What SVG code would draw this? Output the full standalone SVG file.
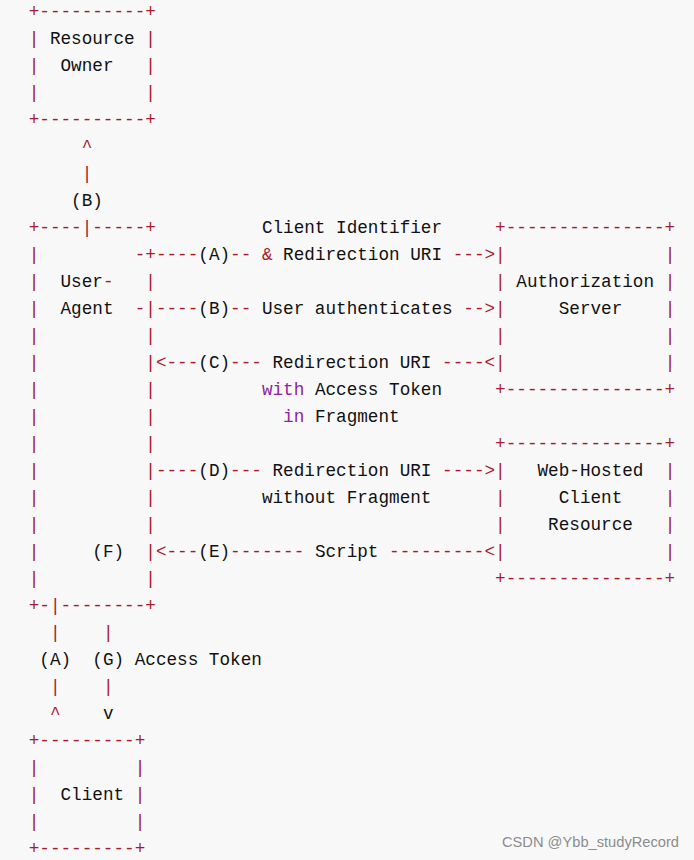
<svg xmlns="http://www.w3.org/2000/svg" width="694" height="860" viewBox="0 0 694 860">
<style>
text{font-family:"Liberation Mono","DejaVu Sans Mono",monospace;font-size:17.667px;white-space:pre}
.r{fill:#a61b2b}
.k{fill:#111111}
.p{fill:#8f23a0}
.wm{font-family:"Liberation Sans","Noto Sans",sans-serif;font-size:14.5px;fill:#8c8c8c}
</style>
<rect x="0" y="0" width="694" height="860" fill="#f8f8f8"/>

<g id="resource-owner">
<text xml:space="preserve" y="16.5"><tspan class="r" x="28.7">+----------+</tspan></text>
<text xml:space="preserve" y="43.5"><tspan class="r" x="28.7">|</tspan><tspan class="k" x="49.9">Resource</tspan><tspan class="r" x="145.3">|</tspan></text>
<text xml:space="preserve" y="70.5"><tspan class="r" x="28.7">|</tspan><tspan class="k" x="60.5">Owner</tspan><tspan class="r" x="145.3">|</tspan></text>
<text xml:space="preserve" y="97.5"><tspan class="r" x="28.7">|</tspan><tspan class="r" x="145.3">|</tspan></text>
<text xml:space="preserve" y="124.5"><tspan class="r" x="28.7">+----------+</tspan></text>
</g>

<g id="user-agent">
<text xml:space="preserve" y="232.5"><tspan class="r" x="28.7">+----|-----+</tspan></text>
<text xml:space="preserve" y="259.5"><tspan class="r" x="28.7">|</tspan></text>
<text xml:space="preserve" y="286.5"><tspan class="r" x="28.7">|</tspan><tspan class="k" x="60.5">User</tspan><tspan class="r" x="102.9">-</tspan><tspan class="r" x="145.3">|</tspan></text>
<text xml:space="preserve" y="313.5"><tspan class="r" x="28.7">|</tspan><tspan class="k" x="60.5">Agent</tspan><tspan class="r" x="145.3">|</tspan></text>
<text xml:space="preserve" y="340.5"><tspan class="r" x="28.7">|</tspan><tspan class="r" x="145.3">|</tspan></text>
<text xml:space="preserve" y="367.5"><tspan class="r" x="28.7">|</tspan><tspan class="r" x="145.3">|</tspan></text>
<text xml:space="preserve" y="394.5"><tspan class="r" x="28.7">|</tspan><tspan class="r" x="145.3">|</tspan></text>
<text xml:space="preserve" y="421.5"><tspan class="r" x="28.7">|</tspan><tspan class="r" x="145.3">|</tspan></text>
<text xml:space="preserve" y="448.5"><tspan class="r" x="28.7">|</tspan><tspan class="r" x="145.3">|</tspan></text>
<text xml:space="preserve" y="475.5"><tspan class="r" x="28.7">|</tspan><tspan class="r" x="145.3">|</tspan></text>
<text xml:space="preserve" y="502.5"><tspan class="r" x="28.7">|</tspan><tspan class="r" x="145.3">|</tspan></text>
<text xml:space="preserve" y="529.5"><tspan class="r" x="28.7">|</tspan><tspan class="r" x="145.3">|</tspan></text>
<text xml:space="preserve" y="556.5"><tspan class="r" x="28.7">|</tspan><tspan class="k" x="92.3">(F)</tspan><tspan class="r" x="145.3">|</tspan></text>
<text xml:space="preserve" y="583.5"><tspan class="r" x="28.7">|</tspan><tspan class="r" x="145.3">|</tspan></text>
<text xml:space="preserve" y="610.5"><tspan class="r" x="28.7">+-|--------+</tspan></text>
</g>

<g id="authorization-server">
<text xml:space="preserve" y="232.5"><tspan class="r" x="495.1">+---------------+</tspan></text>
<text xml:space="preserve" y="259.5"><tspan class="r" x="495.1">|</tspan><tspan class="r" x="664.7">|</tspan></text>
<text xml:space="preserve" y="286.5"><tspan class="r" x="495.1">|</tspan><tspan class="k" x="516.3">Authorization</tspan><tspan class="r" x="664.7">|</tspan></text>
<text xml:space="preserve" y="313.5"><tspan class="r" x="495.1">|</tspan><tspan class="k" x="558.7">Server</tspan><tspan class="r" x="664.7">|</tspan></text>
<text xml:space="preserve" y="340.5"><tspan class="r" x="495.1">|</tspan><tspan class="r" x="664.7">|</tspan></text>
<text xml:space="preserve" y="367.5"><tspan class="r" x="495.1">|</tspan><tspan class="r" x="664.7">|</tspan></text>
<text xml:space="preserve" y="394.5"><tspan class="r" x="495.1">+---------------+</tspan></text>
</g>

<g id="web-hosted-client-resource">
<text xml:space="preserve" y="448.5"><tspan class="r" x="495.1">+---------------+</tspan></text>
<text xml:space="preserve" y="475.5"><tspan class="r" x="495.1">|</tspan><tspan class="k" x="537.5">Web-Hosted</tspan><tspan class="r" x="664.7">|</tspan></text>
<text xml:space="preserve" y="502.5"><tspan class="r" x="495.1">|</tspan><tspan class="k" x="558.7">Client</tspan><tspan class="r" x="664.7">|</tspan></text>
<text xml:space="preserve" y="529.5"><tspan class="r" x="495.1">|</tspan><tspan class="k" x="548.1">Resource</tspan><tspan class="r" x="664.7">|</tspan></text>
<text xml:space="preserve" y="556.5"><tspan class="r" x="495.1">|</tspan><tspan class="r" x="664.7">|</tspan></text>
<text xml:space="preserve" y="583.5"><tspan class="r" x="495.1">+---------------+</tspan></text>
</g>

<g id="client">
<text xml:space="preserve" y="745.5"><tspan class="r" x="28.7">+---------+</tspan></text>
<text xml:space="preserve" y="772.5"><tspan class="r" x="28.7">|</tspan><tspan class="r" x="134.7">|</tspan></text>
<text xml:space="preserve" y="799.5"><tspan class="r" x="28.7">|</tspan><tspan class="k" x="60.5">Client</tspan><tspan class="r" x="134.7">|</tspan></text>
<text xml:space="preserve" y="826.5"><tspan class="r" x="28.7">|</tspan><tspan class="r" x="134.7">|</tspan></text>
<text xml:space="preserve" y="853.5"><tspan class="r" x="28.7">+---------+</tspan></text>
</g>

<g id="connectors">
<text xml:space="preserve" y="151.5"><tspan class="r" x="81.7">^</tspan></text>
<text xml:space="preserve" y="178.5"><tspan class="r" x="81.7">|</tspan></text>
<text xml:space="preserve" y="205.5"><tspan class="k" x="71.1">(B)</tspan></text>

<text xml:space="preserve" y="232.5"><tspan class="k" x="261.9">Client Identifier</tspan></text>
<text xml:space="preserve" y="259.5"><tspan class="r" x="134.7">-+----</tspan><tspan class="k" x="198.3">(A)</tspan><tspan class="r" x="230.1">--</tspan><tspan class="r" x="261.9">&amp;</tspan><tspan class="k" x="283.1">Redirection URI</tspan><tspan class="r" x="452.7">---&gt;</tspan></text>

<text xml:space="preserve" y="313.5"><tspan class="r" x="134.7">-</tspan><tspan class="r" x="155.9">----</tspan><tspan class="k" x="198.3">(B)</tspan><tspan class="r" x="230.1">--</tspan><tspan class="k" x="261.9">User authenticates</tspan><tspan class="r" x="463.3">--&gt;</tspan></text>

<text xml:space="preserve" y="367.5"><tspan class="r" x="155.9">&lt;---</tspan><tspan class="k" x="198.3">(C)</tspan><tspan class="r" x="230.1">---</tspan><tspan class="k" x="272.5">Redirection URI</tspan><tspan class="r" x="442.1">----&lt;</tspan></text>
<text xml:space="preserve" y="394.5"><tspan class="p" x="261.9">with</tspan><tspan class="k" x="314.9">Access Token</tspan></text>
<text xml:space="preserve" y="421.5"><tspan class="p" x="283.1">in</tspan><tspan class="k" x="314.9">Fragment</tspan></text>

<text xml:space="preserve" y="475.5"><tspan class="r" x="155.9">----</tspan><tspan class="k" x="198.3">(D)</tspan><tspan class="r" x="230.1">---</tspan><tspan class="k" x="272.5">Redirection URI</tspan><tspan class="r" x="442.1">----&gt;</tspan></text>
<text xml:space="preserve" y="502.5"><tspan class="k" x="261.9">without Fragment</tspan></text>

<text xml:space="preserve" y="556.5"><tspan class="r" x="155.9">&lt;---</tspan><tspan class="k" x="198.3">(E)</tspan><tspan class="r" x="230.1">-------</tspan><tspan class="k" x="314.9">Script</tspan><tspan class="r" x="389.1">---------&lt;</tspan></text>

<text xml:space="preserve" y="637.5"><tspan class="r" x="49.9">|</tspan><tspan class="r" x="102.9">|</tspan></text>
<text xml:space="preserve" y="664.5"><tspan class="k" x="39.3">(A)</tspan><tspan class="k" x="92.3">(G)</tspan><tspan class="k" x="134.7">Access Token</tspan></text>
<text xml:space="preserve" y="691.5"><tspan class="r" x="49.9">|</tspan><tspan class="r" x="102.9">|</tspan></text>
<text xml:space="preserve" y="718.5"><tspan class="r" x="49.9">^</tspan><tspan class="k" x="102.9">v</tspan></text>
</g>

<text class="wm" x="502" y="847" textLength="177" lengthAdjust="spacingAndGlyphs">CSDN @Ybb_studyRecord</text>
</svg>
